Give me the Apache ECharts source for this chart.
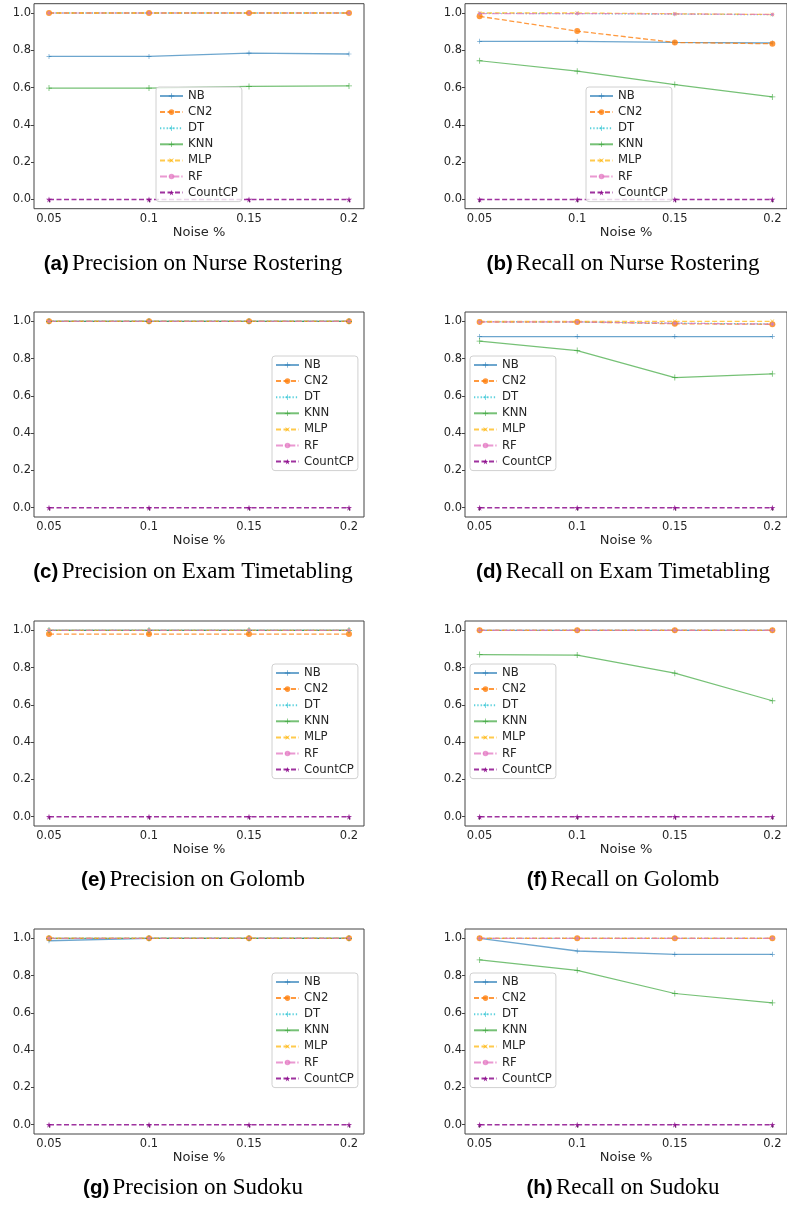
<!DOCTYPE html>
<html>
<head>
<meta charset="utf-8">
<script src="https://cdn.jsdelivr.net/npm/echarts@6/dist/echarts.min.js"></script>
<style>
html,body{margin:0;padding:0;background:#fff;}
#chart{width:787px;height:1205px;}
</style>
</head>
<body>
<div id="chart"></div>
<script>
// ---------- DATA ----------
const noise = [0.05, 0.1, 0.15, 0.2];
const methods = ['NB', 'CN2', 'DT', 'KNN', 'MLP', 'RF', 'CountCP'];
const xTicks = [0.05, 0.1, 0.15, 0.2];
const yTicks = [0, 0.2, 0.4, 0.6, 0.8, 1.0];

// rows follow the order of `methods`
const precNurse = [
  [0.767, 0.767, 0.785, 0.780],
  [1, 1, 1, 1],
  [1, 1, 1, 1],
  [0.597, 0.597, 0.606, 0.609],
  [1, 1, 1, 1],
  [1, 1, 1, 1],
  [0, 0, 0, 0]
];
const recNurse = [
  [0.848, 0.848, 0.842, 0.839],
  [0.982, 0.903, 0.842, 0.835],
  [0.998, 0.997, 0.994, 0.991],
  [0.744, 0.688, 0.616, 0.550],
  [1, 1, 0.996, 0.992],
  [0.997, 0.997, 0.995, 0.992],
  [0, 0, 0, 0]
];
const precExam = [
  [1, 1, 1, 1],
  [1, 1, 1, 1],
  [1, 1, 1, 1],
  [1, 1, 1, 1],
  [1, 1, 1, 1],
  [1, 1, 1, 1],
  [0, 0, 0, 0]
];
const recExam = [
  [0.918, 0.918, 0.918, 0.918],
  [0.996, 0.996, 0.987, 0.984],
  [0.998, 0.997, 0.990, 0.986],
  [0.894, 0.843, 0.698, 0.718],
  [1, 1, 1, 1],
  [0.997, 0.997, 0.990, 0.985],
  [0, 0, 0, 0]
];
const precGolomb = [
  [1, 1, 1, 1],
  [0.980, 0.980, 0.980, 0.980],
  [1, 1, 1, 1],
  [1, 1, 1, 1],
  [1, 1, 1, 1],
  [1, 1, 1, 1],
  [0, 0, 0, 0]
];
const recGolomb = [
  [1, 1, 1, 1],
  [1, 1, 1, 1],
  [1, 1, 1, 1],
  [0.870, 0.867, 0.770, 0.622],
  [1, 1, 1, 1],
  [1, 1, 1, 1],
  [0, 0, 0, 0]
];
const precSudoku = [
  [0.987, 1, 1, 1],
  [1, 1, 1, 1],
  [1, 1, 1, 1],
  [1, 1, 1, 1],
  [1, 1, 1, 1],
  [1, 1, 1, 1],
  [0, 0, 0, 0]
];
const recSudoku = [
  [1.0, 0.932, 0.914, 0.914],
  [1, 1, 1, 1],
  [1, 1, 1, 1],
  [0.884, 0.828, 0.704, 0.654],
  [1, 1, 1, 1],
  [1, 1, 1, 1],
  [0, 0, 0, 0]
];
const captionLetters = ['(a)', '(b)', '(c)', '(d)', '(e)', '(f)', '(g)', '(h)'];
const captionTexts = [
  'Precision on Nurse Rostering', 'Recall on Nurse Rostering',
  'Precision on Exam Timetabling', 'Recall on Exam Timetabling',
  'Precision on Golomb', 'Recall on Golomb',
  'Precision on Sudoku', 'Recall on Sudoku'
];
const panelData = [precNurse, recNurse, precExam, recExam, precGolomb, recGolomb, precSudoku, recSudoku];

// ---------- STYLE / LAYOUT ----------
const PLUS = 'path://M4.3,0H5.7V10H4.3Z M0,4.3H10V5.7H0Z';
const STAR = 'path://M50,0 L61,35 L98,35 L68,57 L79,91 L50,70 L21,91 L32,57 L2,35 L39,35 Z';
const styles = [
  {color: '#1f77b4', type: 'solid', symbol: PLUS, size: 5, rot: 0, op: 0.65, w: 1.3},
  {color: '#ff7f0e', type: [5, 2.5], symbol: 'circle', size: 6, rot: 0, op: 0.8, w: 1.3},
  {color: '#17becf', type: [1.3, 2], symbol: PLUS, size: 4, rot: 0, op: 0.7, w: 1.3},
  {color: '#2ca02c', type: 'solid', symbol: PLUS, size: 6, rot: 0, op: 0.65, w: 1.2},
  {color: '#ffb300', type: [5, 2.5], symbol: PLUS, size: 5, rot: 45, op: 0.7, w: 1.3},
  {color: '#e377c2', type: [7, 2, 1.3, 2], symbol: 'circle', size: 3.5, rot: 0, op: 0.75, w: 1.2},
  {color: '#8e0e8e', type: [5, 2.5], symbol: STAR, size: 6, rot: 0, op: 0.85, w: 1.5}
];
const colLeft = [34, 465];
const plotW = 330;
const rowTop = [3.7, 312, 621, 929];
const plotH = 205;
const captionX = [193, 623];
const captionY = [264, 572, 880, 1188];
const legendPos = [[156, 87], [586, 87], [272, 356], [470, 356], [272, 664], [470, 664], [272, 973], [470, 973]];

const grids = [], xAxes = [], yAxes = [], series = [], legends = [], graphics = [];
const tickFont = {fontFamily: 'DejaVu Sans', fontSize: 11.5, color: '#262626'};

panelData.forEach((vals, p) => {
  const col = p % 2, row = Math.floor(p / 2);
  grids.push({
    left: colLeft[col], top: rowTop[row], width: plotW, height: plotH,
    show: true, borderColor: '#444', borderWidth: 1, backgroundColor: 'transparent'
  });
  xAxes.push({
    type: 'value', gridIndex: p, min: 0.0425, max: 0.2075,
    splitLine: {show: false}, axisLine: {show: false},
    axisTick: {show: true, customValues: xTicks, length: 3, lineStyle: {color: '#444'}},
    axisLabel: Object.assign({customValues: xTicks, margin: 4,
      formatter: v => String(+Number(v).toFixed(2))}, tickFont),
    name: 'Noise %', nameLocation: 'middle', nameGap: 17,
    nameTextStyle: {fontFamily: 'DejaVu Sans', fontSize: 13, color: '#262626'}
  });
  yAxes.push({
    type: 'value', gridIndex: p, min: -0.05, max: 1.05,
    splitLine: {show: false}, axisLine: {show: false},
    axisTick: {show: true, customValues: yTicks, length: 3, lineStyle: {color: '#444'}},
    axisLabel: Object.assign({customValues: yTicks, margin: 3,
      formatter: v => Number(v).toFixed(1)}, tickFont)
  });
  methods.forEach((m, i) => {
    const s = styles[i];
    series.push({
      type: 'line', name: m, xAxisIndex: p, yAxisIndex: p,
      data: noise.map((x, k) => [x, vals[i][k]]),
      symbol: s.symbol, symbolSize: s.size, symbolRotate: s.rot,
      showAllSymbol: true, silent: true,
      lineStyle: {color: s.color, width: s.w, type: s.type, opacity: s.op},
      itemStyle: {color: s.color, opacity: s.op},
      emphasis: {disabled: true}
    });
  });
  legends.push({
    orient: 'vertical', left: legendPos[p][0], top: legendPos[p][1],
    data: methods, itemWidth: 23, itemHeight: 7, itemGap: 4.1, itemTextGap: 9,
    padding: [3, 4, 3, 3], borderColor: '#d0d0d0', borderWidth: 1, borderRadius: 3,
    backgroundColor: 'rgba(255,255,255,0.8)', selectedMode: false,
    textStyle: {fontFamily: 'DejaVu Sans', fontSize: 11.7, color: '#262626', lineHeight: 11}
  });
  graphics.push({
    type: 'text', x: captionX[col], y: captionY[row],
    style: {
      text: '{b|' + captionLetters[p] + '} {s|' + captionTexts[p] + '}',
      align: 'center', verticalAlign: 'middle',
      rich: {
        b: {fontFamily: 'Liberation Sans', fontWeight: 'bold', fontSize: 20.5, fill: '#000'},
        s: {fontFamily: 'Liberation Serif', fontSize: 23, fill: '#000'}
      }
    }
  });
});

const chart = echarts.init(document.getElementById('chart'), null, {renderer: 'canvas'});
chart.setOption({
  animation: false,
  grid: grids, xAxis: xAxes, yAxis: yAxes, series: series,
  legend: legends, graphic: graphics
});
</script>
</body>
</html>
